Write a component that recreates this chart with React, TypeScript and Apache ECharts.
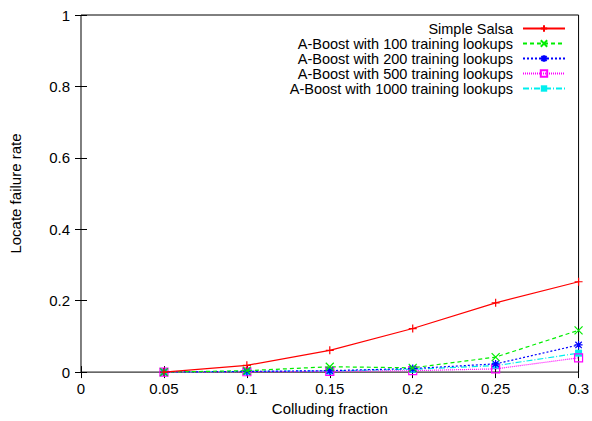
import React, { useEffect, useRef } from "react";
import * as echarts from "echarts";

const xValues = [0.05, 0.1, 0.15, 0.2, 0.25, 0.3];
const seriesNames = [
  "Simple Salsa",
  "A-Boost with 100 training lookups",
  "A-Boost with 200 training lookups",
  "A-Boost with 500 training lookups",
  "A-Boost with 1000 training lookups",
];
const simpleSalsa = [0.0, 0.019, 0.061, 0.122, 0.194, 0.253];
const boost100 = [0.0, 0.004, 0.015, 0.012, 0.042, 0.117];
const boost200 = [0.0, 0.002, 0.004, 0.01, 0.023, 0.076];
const boost500 = [0.0, 0.001, 0.002, 0.004, 0.009, 0.04];
const boost1000 = [0.0, 0.002, 0.003, 0.008, 0.018, 0.053];

const colors = ["#ff0000", "#00ee00", "#0000ff", "#ff00ff", "#00eeee"];
const dashes: any[] = ["solid", [4, 3], [2, 2], [1, 1], [6, 2, 1, 2]];
const symbols = [
  "path://M0,5L10,5M5,0L5,10",
  "path://M0,0L10,10M10,0L0,10",
  "path://M0,5L10,5M5,0L5,10M1,1L9,9M9,1L1,9",
  "path://M0,0L10,0L10,10L0,10Z",
  "rect",
];

export default function App() {
  const ref = useRef<HTMLDivElement>(null);
  useEffect(() => {
    const chart = echarts.init(ref.current!, null, { renderer: "svg" });
    const all = [simpleSalsa, boost100, boost200, boost500, boost1000];
    const font = "Liberation Sans, Arial, sans-serif";
    const series = all.map((vals, i) => ({
      name: seriesNames[i],
      type: "line",
      data: xValues.map((x, j) => [x, vals[j]]),
      symbol: symbols[i],
      symbolSize: i === 4 ? 7 : 8,
      showSymbol: true,
      lineStyle: { color: colors[i], width: 1.2, type: dashes[i] },
      itemStyle: {
        color: i === 3 ? "transparent" : colors[i],
        borderColor: colors[i],
        borderWidth: i === 4 ? 0 : 1.2,
      },
      z: 10 - i,
    }));
    const tick = { inside: true, length: 6, lineStyle: { color: "#000" } };
    chart.setOption({
      animation: false,
      textStyle: { fontFamily: font },
      grid: {
        left: 79,
        right: 12,
        top: 15,
        bottom: 46,
        show: true,
        borderColor: "#000",
        borderWidth: 1,
        backgroundColor: "transparent",
      },
      legend: {
        orient: "vertical",
        align: "right",
        right: 26,
        top: 21,
        padding: 0,
        itemWidth: 42,
        itemHeight: 8,
        itemGap: 0,
        textStyle: {
          fontSize: 14.5,
          lineHeight: 15,
          color: "#000",
          fontFamily: font,
          padding: [0, 5, 0, 0],
        },
        data: seriesNames,
      },
      xAxis: [
        {
          type: "value",
          min: 0,
          max: 0.3,
          interval: 0.05,
          name: "Colluding fraction",
          nameLocation: "middle",
          nameGap: 27,
          nameTextStyle: { fontSize: 15, color: "#000" },
          axisLine: { show: false },
          axisTick: tick,
          axisLabel: { fontSize: 15, color: "#000", margin: 9 },
          splitLine: { show: false },
        },
        {
          type: "value",
          position: "top",
          min: 0,
          max: 0.3,
          interval: 0.05,
          axisLine: { show: false },
          axisTick: tick,
          axisLabel: { show: false },
          splitLine: { show: false },
        },
      ],
      yAxis: [
        {
          type: "value",
          min: 0,
          max: 1,
          interval: 0.2,
          name: "Locate failure rate",
          nameLocation: "middle",
          nameGap: 58,
          nameTextStyle: { fontSize: 15, color: "#000" },
          axisLine: { show: false },
          axisTick: tick,
          axisLabel: { fontSize: 15, color: "#000", margin: 11 },
          splitLine: { show: false },
        },
        {
          type: "value",
          position: "right",
          min: 0,
          max: 1,
          interval: 0.2,
          axisLine: { show: false },
          axisTick: tick,
          axisLabel: { show: false },
          splitLine: { show: false },
        },
      ],
      series,
    });
    return () => chart.dispose();
  }, []);
  return <div ref={ref} style={{ width: 592, height: 421, position: "absolute", left: 0, top: 0 }} />;
}
